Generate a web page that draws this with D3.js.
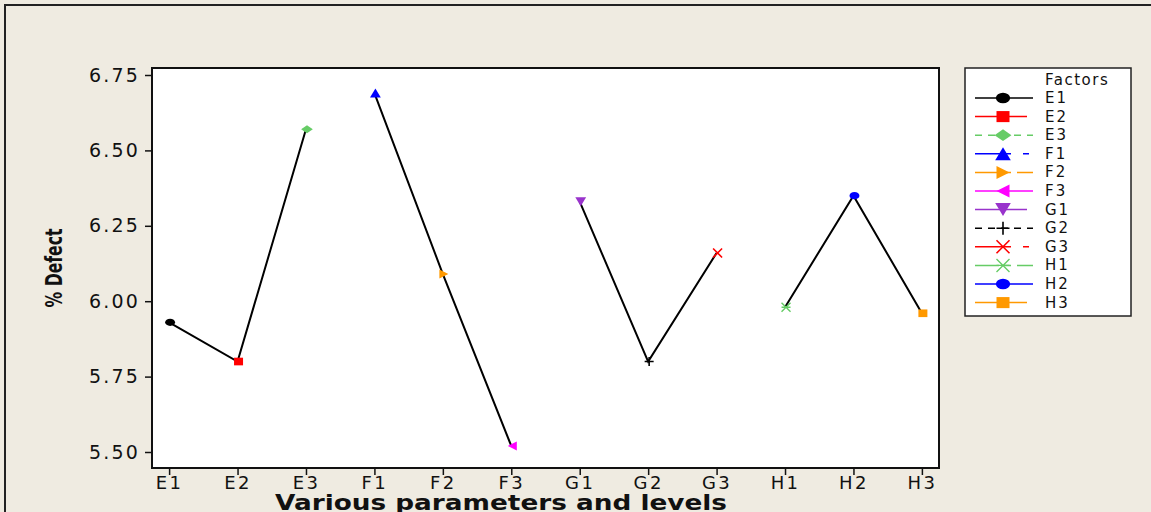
<!DOCTYPE html>
<html>
<head>
<meta charset="utf-8">
<script src="https://cdn.jsdelivr.net/npm/d3@7"></script>
<style>
  body { margin: 0; background: #efebe1; }
  text { font-family: "DejaVu Sans", Verdana, sans-serif; }
</style>
</head>
<body>
<script>
// data
var categories = ["E1","E2","E3","F1","F2","F3","G1","G2","G3","H1","H2","H3"];
var groups     = ["E","E","E","F","F","F","G","G","G","H","H","H"];
var values     = [5.93, 5.80, 6.57, 6.69, 6.09, 5.52, 6.33, 5.80, 6.16, 5.98, 6.35, 5.96];
var yTicks     = [5.50, 5.75, 6.00, 6.25, 6.50, 6.75];

// marker style for each level (legend order)
var markerColors = ["#000000","#ff0000","#66cc66","#0000ff","#ff9900","#ff00ff",
                    "#9933cc","#000000","#ff0000","#66cc66","#0000ff","#ff9900"];
var markerShapes = ["circle","square","diamond","triUp","triRight","triLeft",
                    "triDown","plus","cross","star","circle","square"];
var legendDash   = [null, null, "7,6", "36,12,6,100", "24,6,6,6", null,
                    null, "7,6", "36,12,6,100", "24,6,6,6", null, null];

var W = 1151, H = 512;
var margin = {left: 152, top: 68, right: 212, bottom: 44};

var svg = d3.select("body").append("svg")
    .attr("width", W).attr("height", H);

// outer frame
svg.append("rect").attr("x", 5).attr("y", 5)
    .attr("width", W + 10).attr("height", H + 10)
    .attr("fill", "#efebe1").attr("stroke", "#222").attr("stroke-width", 2);

var x = d3.scalePoint().domain(categories)
    .range([margin.left, W - margin.right]).padding(0.25);
var y = d3.scaleLinear().domain([5.50, 6.75])
    .range([452, 75]);

// plot area
svg.append("rect").attr("x", margin.left).attr("y", margin.top)
    .attr("width", W - margin.right - margin.left)
    .attr("height", H - margin.bottom - margin.top)
    .attr("fill", "white").attr("stroke", "#111").attr("stroke-width", 2);

var yAxis = svg.append("g")
    .attr("transform", "translate(" + (margin.left - 1) + ",0)")
    .call(d3.axisLeft(y).tickValues(yTicks).tickFormat(d3.format(".2f")).tickSize(6).tickPadding(5));
yAxis.select(".domain").remove();
yAxis.selectAll("line").attr("stroke", "#111").attr("stroke-width", 1.5);
yAxis.selectAll("text").attr("font-size", 19).attr("fill", "#111")
    .attr("letter-spacing", 2.2).attr("font-family", "DejaVu Sans");

var xAxis = svg.append("g")
    .attr("transform", "translate(0," + (H - margin.bottom + 1) + ")")
    .call(d3.axisBottom(x).tickSize(6).tickPadding(1));
xAxis.select(".domain").remove();
xAxis.selectAll("line").attr("stroke", "#111").attr("stroke-width", 1.5);
xAxis.selectAll("text").attr("font-size", 18).attr("fill", "#111")
    .attr("letter-spacing", 2.4).attr("font-family", "DejaVu Sans");

// axis titles
svg.append("text")
    .attr("x", 501).attr("y", 510)
    .attr("text-anchor", "middle")
    .attr("font-size", 21).attr("font-weight", "bold")
    .attr("textLength", 452).attr("lengthAdjust", "spacingAndGlyphs")
    .attr("fill", "#111")
    .text("Various parameters and levels");

svg.append("text")
    .attr("transform", "translate(62,268) rotate(-90)")
    .attr("text-anchor", "middle")
    .attr("font-size", 23).attr("font-weight", "bold")
    .attr("textLength", 79).attr("lengthAdjust", "spacingAndGlyphs")
    .attr("fill", "#111")
    .text("% Defect");

// lines within each factor
var pts = categories.map(function (c, i) {
    return {cat: c, grp: groups[i], val: values[i], i: i};
});
var byGroup = d3.groups(pts, function (d) { return d.grp; });
var line = d3.line()
    .x(function (d) { return x(d.cat); })
    .y(function (d) { return y(d.val); });

svg.selectAll(".fline").data(byGroup).enter().append("path")
    .attr("class", "fline")
    .attr("d", function (d) { return line(d[1]); })
    .attr("fill", "none").attr("stroke", "#000").attr("stroke-width", 2);

function drawMarker(g, shape, color, s) {
    if (shape == "circle") {
        g.append("ellipse").attr("rx", s * 1.1).attr("ry", s * 0.8).attr("fill", color);
    } else if (shape == "square") {
        g.append("rect").attr("x", -s).attr("y", -s * 0.85).attr("width", 2 * s).attr("height", 1.7 * s).attr("fill", color);
    } else if (shape == "diamond") {
        g.append("path").attr("d", "M" + (-s * 1.3) + ",0L0," + (-s * 0.9) + "L" + (s * 1.3) + ",0L0," + (s * 0.9) + "Z").attr("fill", color);
    } else if (shape == "triUp") {
        g.append("path").attr("d", "M0," + (-s) + "L" + (s * 1.2) + "," + s + "L" + (-s * 1.2) + "," + s + "Z").attr("fill", color);
    } else if (shape == "triDown") {
        g.append("path").attr("d", "M0," + s + "L" + (s * 1.2) + "," + (-s) + "L" + (-s * 1.2) + "," + (-s) + "Z").attr("fill", color);
    } else if (shape == "triRight") {
        g.append("path").attr("d", "M" + s + ",0L" + (-s) + "," + (-s) + "L" + (-s) + "," + s + "Z").attr("fill", color);
    } else if (shape == "triLeft") {
        g.append("path").attr("d", "M" + (-s) + ",0L" + s + "," + (-s) + "L" + s + "," + s + "Z").attr("fill", color);
    } else if (shape == "plus") {
        g.append("path").attr("d", "M" + (-s) + ",0H" + s + "M0," + (-s) + "V" + s)
            .attr("stroke", color).attr("stroke-width", 1.6);
    } else if (shape == "cross") {
        g.append("path").attr("d", "M" + (-s) + "," + (-s) + "L" + s + "," + s + "M" + s + "," + (-s) + "L" + (-s) + "," + s)
            .attr("stroke", color).attr("stroke-width", 1.6);
    } else if (shape == "star") {
        g.append("path").attr("d", "M" + (-s) + "," + (-s) + "L" + s + "," + s + "M" + s + "," + (-s) + "L" + (-s) + "," + s + "M" + (-s) + ",0H" + s)
            .attr("stroke", color).attr("stroke-width", 1.4);
    }
}

// plot markers
svg.selectAll(".mk").data(pts).enter().append("g")
    .attr("class", "mk")
    .attr("transform", function (d) { return "translate(" + (x(d.cat) + 1) + "," + y(d.val) + ")"; })
    .each(function (d) {
        drawMarker(d3.select(this), markerShapes[d.i], markerColors[d.i], 4.5);
    });

// legend
var lg = svg.append("g").attr("transform", "translate(965,68)");
lg.append("rect").attr("width", 166).attr("height", 248)
    .attr("fill", "white").attr("stroke", "#222").attr("stroke-width", 1.5);
lg.append("text").attr("x", 80).attr("y", 17).attr("font-size", 15)
    .attr("letter-spacing", 1.5)
    .attr("fill", "#111").text("Factors");

var rows = lg.selectAll(".lrow").data(categories).enter().append("g")
    .attr("class", "lrow")
    .attr("transform", function (d, i) { return "translate(0," + (30 + i * 18.6) + ")"; });
rows.append("line")
    .attr("x1", 10).attr("x2", function (d, i) { return (i == 1 || i == 6 || i == 11) ? 62 : 68; })
    .attr("stroke", function (d, i) { return markerColors[i]; })
    .attr("stroke-width", 1.5)
    .attr("stroke-dasharray", function (d, i) { return legendDash[i]; });
rows.each(function (d, i) {
    var g = d3.select(this).append("g").attr("transform", "translate(38,0)");
    drawMarker(g, markerShapes[i], markerColors[i], 6.5);
});
rows.append("text").attr("x", 80).attr("y", 5)
    .attr("font-size", 15).attr("fill", "#111")
    .attr("letter-spacing", 2)
    .text(function (d) { return d; });
</script>
</body>
</html>
